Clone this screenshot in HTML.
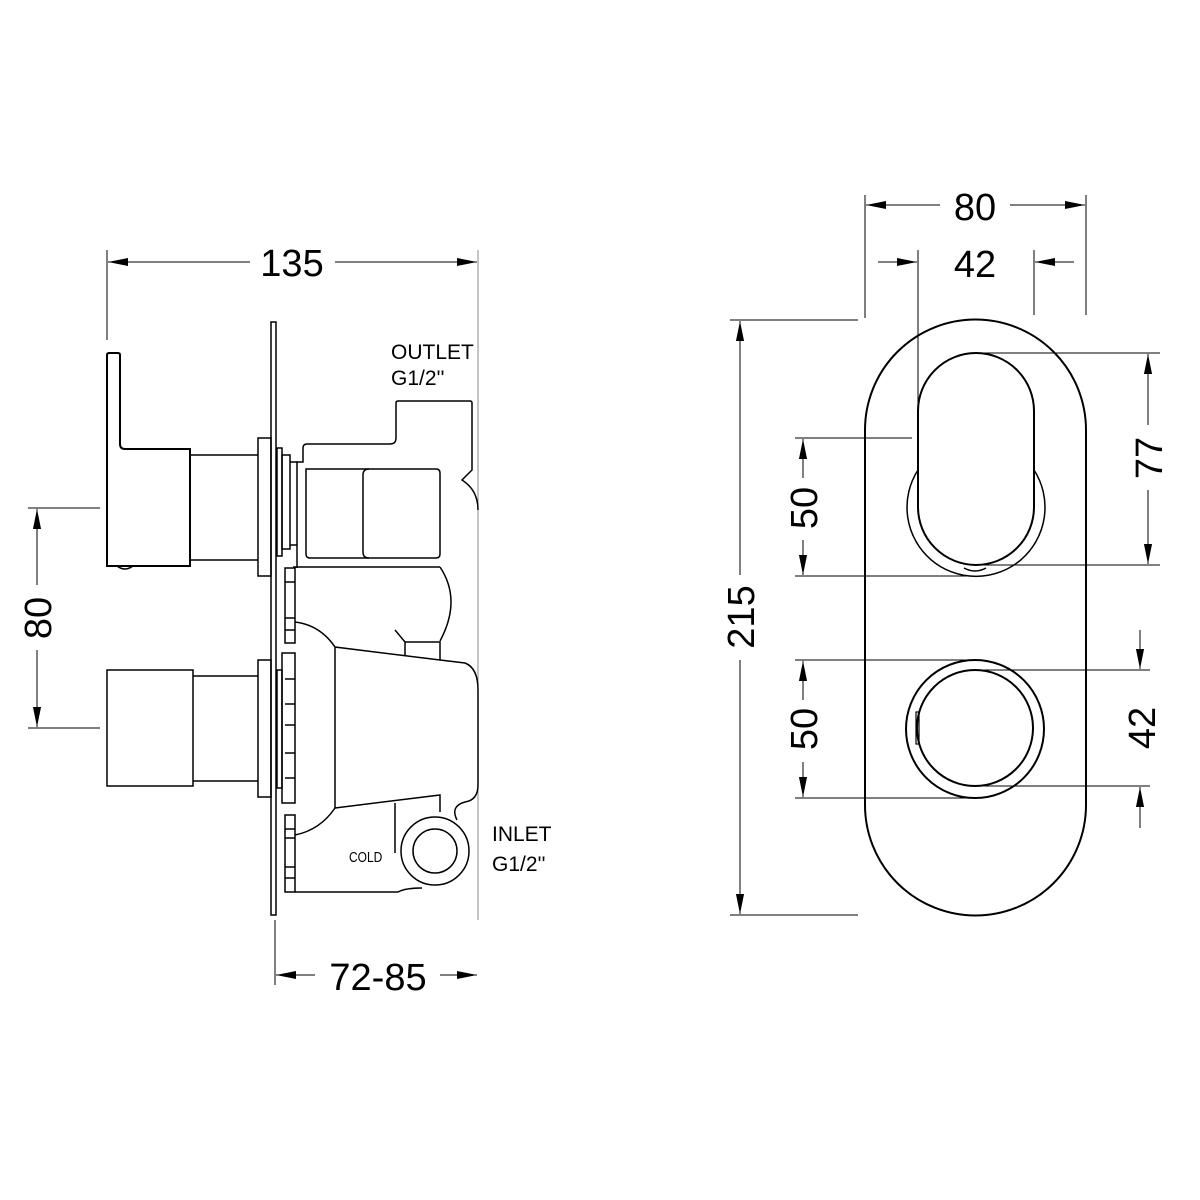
<!DOCTYPE html>
<html><head><meta charset="utf-8"><style>
html,body{margin:0;padding:0;background:#fff}
svg{display:block}
text{font-family:"Liberation Sans",sans-serif;fill:#000}
</style></head><body>
<svg width="1200" height="1200" viewBox="0 0 1200 1200" xmlns="http://www.w3.org/2000/svg">
<defs>
<marker id="a" viewBox="0 0 10 10" refX="10" refY="5" markerWidth="20" markerHeight="9" orient="auto-start-reverse" markerUnits="userSpaceOnUse" preserveAspectRatio="none"><path d="M0,0.5 L10,5 L0,9.5 Z" fill="#000"/></marker>
</defs>
<g stroke="#000" stroke-width="1" fill="none">
<line x1="107" y1="250" x2="107" y2="340"/>
<line x1="478" y1="250" x2="478" y2="920" stroke="#888"/>
<line x1="108" y1="262" x2="250" y2="262" marker-start="url(#a)"/>
<line x1="335" y1="262" x2="477" y2="262" marker-end="url(#a)"/>
<line x1="28" y1="508" x2="100" y2="508"/>
<line x1="28" y1="728" x2="100" y2="728"/>
<line x1="37" y1="509" x2="37" y2="585" marker-start="url(#a)"/>
<line x1="37" y1="650" x2="37" y2="727" marker-end="url(#a)"/>
<line x1="275" y1="920" x2="275" y2="985"/>
<line x1="276" y1="975" x2="315" y2="975" marker-start="url(#a)"/>
<line x1="440" y1="975" x2="477" y2="975" marker-end="url(#a)"/>
</g>
<g stroke="#000" stroke-width="2" fill="none">
<path d="M107,566 L107,355 Q107,353 109,353 L118,353 Q120,353 120,355 L120,444 Q120,449 125,449 L190,449 L190,566 Z"/>
<path d="M117,566 Q125,572 133,566" stroke-width="1.5"/>
<line x1="190" y1="455" x2="258" y2="455" stroke-width="1.5"/>
<line x1="190" y1="560" x2="258" y2="560" stroke-width="1.5"/>
<rect x="258" y="438" width="13" height="138" stroke-width="1.5"/>
<rect x="271" y="322" width="5" height="593" stroke-width="1.5"/>
<rect x="277" y="448" width="5" height="108" stroke-width="1.5"/>
<rect x="282" y="455" width="8" height="94" stroke-width="1.5"/>
<line x1="290" y1="462" x2="297" y2="462" stroke-width="1.5"/>
<line x1="290" y1="545" x2="297" y2="545" stroke-width="1.5"/>
<path d="M297,568 L297,462 L303,462 L303,448 Q303,444 307,444 L390,444 Q396,444 396,438 L396,403 Q396,401 398,401 L470,401 Q472,401 472,403 L472,470 Q468,474 462,480 Q478,490 478,510" stroke-width="1.5"/>
<path d="M306,469 L436,469 Q440,469 440,473 L440,554 Q440,558 436,558 L310,558 Q306,558 306,554 Z" stroke-width="1.5"/>
<path d="M369,469 Q363,469 363,475 L363,552 Q363,558 369,558" stroke-width="1.5"/>
<line x1="293" y1="567" x2="440" y2="567" stroke-width="1.5"/>
<path d="M440,567 Q462,600 440,641" stroke-width="1.5"/>
<rect x="107" y="670" width="86" height="116" stroke-width="1.5"/>
<line x1="193" y1="676" x2="258" y2="676" stroke-width="1.5"/>
<line x1="193" y1="781" x2="258" y2="781" stroke-width="1.5"/>
<rect x="258" y="660" width="13" height="137" stroke-width="1.5"/>
<rect x="277" y="670" width="5" height="118" stroke-width="1.5"/>
<rect x="282" y="653" width="13" height="150" stroke-width="1.5"/>
<rect x="285" y="568" width="10" height="75" stroke-width="1.5"/>
<line x1="285" y1="582" x2="295" y2="582" stroke-width="1.5"/>
<line x1="285" y1="618" x2="295" y2="618" stroke-width="1.5"/>
<line x1="285" y1="630" x2="295" y2="630" stroke-width="1.5"/>
<line x1="285" y1="679" x2="295" y2="679" stroke-width="1.5"/>
<line x1="285" y1="704" x2="295" y2="704" stroke-width="1.5"/>
<line x1="285" y1="725" x2="295" y2="725" stroke-width="1.5"/>
<line x1="285" y1="753" x2="295" y2="753" stroke-width="1.5"/>
<line x1="285" y1="778" x2="295" y2="778" stroke-width="1.5"/>
<rect x="285" y="815" width="10" height="77" stroke-width="1.5"/>
<line x1="285" y1="829" x2="295" y2="829" stroke-width="1.5"/>
<line x1="285" y1="838" x2="295" y2="838" stroke-width="1.5"/>
<line x1="285" y1="867" x2="295" y2="867" stroke-width="1.5"/>
<line x1="285" y1="878" x2="295" y2="878" stroke-width="1.5"/>
<path d="M295,622 Q320,625 335,647 L440,660 L465,663 Q478,668 478,690 L478,785 Q478,800 465,802 Q450,806 457,820" stroke-width="1.5"/>
<line x1="335" y1="647" x2="335" y2="747" stroke-width="1.5"/>
<path d="M295,835 Q320,830 335,808" stroke-width="1.5"/>
<path d="M335,747 L335,808 M335,808 L440,795 L440,812" stroke-width="1.5"/>
<path d="M395,630 L405,642 L405,656 M405,642 L440,642 L440,660" stroke-width="1.5"/>
<line x1="395" y1="803" x2="395" y2="853" stroke-width="1.5"/>
<circle cx="435" cy="851" r="34" stroke-width="1.5"/>
<circle cx="435" cy="851" r="22" stroke-width="1.5"/>
<path d="M295,892 L398,892 Q405,888 422,888" stroke-width="1.5"/>
</g>
<g stroke="#000" stroke-width="1" fill="none">
<line x1="865" y1="195" x2="865" y2="318"/>
<line x1="1086" y1="195" x2="1086" y2="315"/>
<line x1="866" y1="205" x2="940" y2="205" marker-start="url(#a)"/>
<line x1="1010" y1="205" x2="1085" y2="205" marker-end="url(#a)"/>
<line x1="918" y1="250" x2="918" y2="440"/>
<line x1="1034" y1="250" x2="1034" y2="315"/>
<line x1="878" y1="262" x2="917" y2="262" marker-end="url(#a)"/>
<line x1="1074" y1="262" x2="1035" y2="262" marker-end="url(#a)"/>
<line x1="730" y1="320" x2="858" y2="320"/>
<line x1="730" y1="915" x2="858" y2="915"/>
<line x1="740" y1="321" x2="740" y2="575" marker-start="url(#a)"/>
<line x1="740" y1="660" x2="740" y2="914" marker-end="url(#a)"/>
<line x1="795" y1="438" x2="912" y2="438"/>
<line x1="795" y1="576" x2="975" y2="576"/>
<line x1="795" y1="660" x2="975" y2="660"/>
<line x1="795" y1="798" x2="975" y2="798"/>
<line x1="803" y1="439" x2="803" y2="478" marker-start="url(#a)"/>
<line x1="803" y1="540" x2="803" y2="575" marker-end="url(#a)"/>
<line x1="803" y1="661" x2="803" y2="700" marker-start="url(#a)"/>
<line x1="803" y1="762" x2="803" y2="797" marker-end="url(#a)"/>
<line x1="975" y1="353" x2="1160" y2="353"/>
<line x1="975" y1="565" x2="1160" y2="565"/>
<line x1="1148" y1="354" x2="1148" y2="425" marker-start="url(#a)"/>
<line x1="1148" y1="490" x2="1148" y2="564" marker-end="url(#a)"/>
<line x1="975" y1="670" x2="1150" y2="670"/>
<line x1="975" y1="786" x2="1150" y2="786"/>
<line x1="1140" y1="630" x2="1140" y2="669" marker-end="url(#a)"/>
<line x1="1140" y1="828" x2="1140" y2="787" marker-end="url(#a)"/>
</g>
<g stroke="#000" stroke-width="2" fill="none">
<path d="M865,430 A110.5,110.5 0 0 1 1086,430 L1086,805 A110.5,110.5 0 0 1 865,805 Z"/>
<path d="M918,411 A58,58 0 0 1 1034,411 L1034,507 A58,58 0 0 1 918,507 Z"/>
<path d="M918,470 A69,69 0 1 0 1034,470" stroke-width="1.5"/>
<path d="M964,568 Q975,574 986,568" stroke-width="1.5"/>
<circle cx="975" cy="729" r="69"/>
<circle cx="975" cy="728" r="58"/>
<rect x="916" y="712" width="3" height="32" stroke-width="1.2"/>
</g>
<text x="292" y="276" font-size="38" text-anchor="middle">135</text>
<text x="378" y="990" font-size="38" text-anchor="middle">72-85</text>
<text transform="translate(51,618) rotate(-90)" font-size="38" text-anchor="middle">80</text>
<text x="975" y="220" font-size="38" text-anchor="middle">80</text>
<text x="975" y="277" font-size="38" text-anchor="middle">42</text>
<text transform="translate(754,617) rotate(-90)" font-size="38" text-anchor="middle">215</text>
<text transform="translate(817,508) rotate(-90)" font-size="38" text-anchor="middle">50</text>
<text transform="translate(817,729) rotate(-90)" font-size="38" text-anchor="middle">50</text>
<text transform="translate(1162,458) rotate(-90)" font-size="38" text-anchor="middle">77</text>
<text transform="translate(1155,728) rotate(-90)" font-size="38" text-anchor="middle">42</text>
<text x="391" y="359" font-size="21">OUTLET</text>
<text x="391" y="385" font-size="21">G1/2''</text>
<text x="492" y="841" font-size="21">INLET</text>
<text x="492" y="871" font-size="21">G1/2''</text>
<text x="349" y="862" font-size="15" transform="translate(349,862) scale(0.8,1) translate(-349,-862)">COLD</text>
</svg>
</body></html>
